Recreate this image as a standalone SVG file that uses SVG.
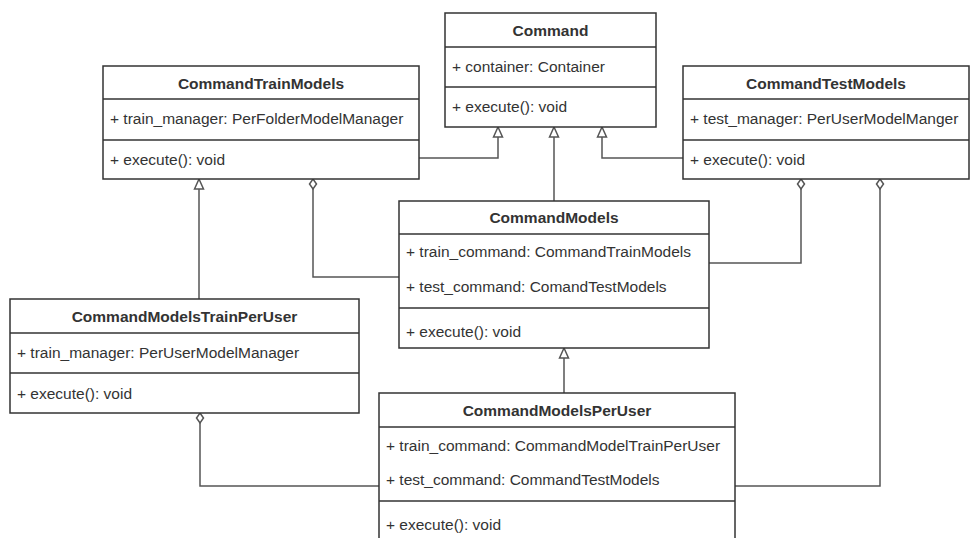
<svg xmlns="http://www.w3.org/2000/svg" width="974" height="538" viewBox="0 0 974 538">
<style>
.box{fill:#fff;stroke:#333;stroke-width:1.5}
.div{stroke:#333;stroke-width:1.5}
.t{font-family:"Liberation Sans",Arial,sans-serif;font-size:15.5px;fill:#333}
.h{font-weight:bold;text-anchor:middle}
.c{fill:none;stroke:#555;stroke-width:1.5}
.gen{marker-end:url(#tri)}
.agg{marker-start:url(#dia)}
</style>
<defs>
<marker id="tri" markerUnits="userSpaceOnUse" markerWidth="12" markerHeight="12" refX="10" refY="5" orient="auto" overflow="visible">
<path d="M0,0.5 L10,5 L0,9.5 z" fill="#fff" stroke="#555" stroke-width="1.5"/>
</marker>
<marker id="dia" markerUnits="userSpaceOnUse" markerWidth="12" markerHeight="10" refX="0" refY="3.5" orient="auto" overflow="visible">
<path d="M0,3.5 L5,0 L10,3.5 L5,7 z" fill="#fff" stroke="#555" stroke-width="1.5"/>
</marker>
</defs>
<rect width="974" height="538" fill="#fff"/>
<g id="connectors">
<path class="c gen" d="M419,158 H498 V127"/>
<path class="c gen" d="M683,158 H602 V127"/>
<path class="c gen" d="M554,201 V127"/>
<path class="c gen" d="M199,299 V179"/>
<path class="c gen" d="M564,393 V348"/>
<path class="c agg" d="M313,179 V277 H399"/>
<path class="c agg" d="M801,179 V263 H709"/>
<path class="c agg" d="M200,413 V486 H379"/>
<path class="c agg" d="M880,179 V486 H735"/>
</g>
<g id="Command">
<rect class="box" x="445" y="13" width="211" height="114"/>
<line class="div" x1="445" y1="47" x2="656" y2="47"/>
<line class="div" x1="445" y1="87" x2="656" y2="87"/>
<text class="t h" x="550.5" y="36">Command</text>
<text class="t" x="452" y="72">+ container: Container</text>
<text class="t" x="452" y="112">+ execute(): void</text>
</g>
<g id="CommandTrainModels">
<rect class="box" x="103" y="66" width="316" height="113"/>
<line class="div" x1="103" y1="99" x2="419" y2="99"/>
<line class="div" x1="103" y1="140" x2="419" y2="140"/>
<text class="t h" x="261" y="89">CommandTrainModels</text>
<text class="t" x="110" y="124">+ train_manager: PerFolderModelManager</text>
<text class="t" x="110" y="165">+ execute(): void</text>
</g>
<g id="CommandTestModels">
<rect class="box" x="683" y="66" width="286" height="113"/>
<line class="div" x1="683" y1="99" x2="969" y2="99"/>
<line class="div" x1="683" y1="140" x2="969" y2="140"/>
<text class="t h" x="826" y="89">CommandTestModels</text>
<text class="t" x="690" y="124">+ test_manager: PerUserModelManger</text>
<text class="t" x="690" y="165">+ execute(): void</text>
</g>
<g id="CommandModels">
<rect class="box" x="399" y="201" width="310" height="147"/>
<line class="div" x1="399" y1="234" x2="709" y2="234"/>
<line class="div" x1="399" y1="308" x2="709" y2="308"/>
<text class="t h" x="554" y="223">CommandModels</text>
<text class="t" x="406" y="257">+ train_command: CommandTrainModels</text>
<text class="t" x="406" y="292">+ test_command: ComandTestModels</text>
<text class="t" x="406" y="337">+ execute(): void</text>
</g>
<g id="CommandModelsTrainPerUser">
<rect class="box" x="10" y="299" width="349" height="114"/>
<line class="div" x1="10" y1="333" x2="359" y2="333"/>
<line class="div" x1="10" y1="373" x2="359" y2="373"/>
<text class="t h" x="184.5" y="322">CommandModelsTrainPerUser</text>
<text class="t" x="17" y="358">+ train_manager: PerUserModelManager</text>
<text class="t" x="17" y="399">+ execute(): void</text>
</g>
<g id="CommandModelsPerUser">
<rect class="box" x="379" y="393" width="356" height="160"/>
<line class="div" x1="379" y1="427" x2="735" y2="427"/>
<line class="div" x1="379" y1="501" x2="735" y2="501"/>
<text class="t h" x="557" y="416">CommandModelsPerUser</text>
<text class="t" x="386" y="451">+ train_command: CommandModelTrainPerUser</text>
<text class="t" x="386" y="485">+ test_command: CommandTestModels</text>
<text class="t" x="386" y="530">+ execute(): void</text>
</g>
</svg>
